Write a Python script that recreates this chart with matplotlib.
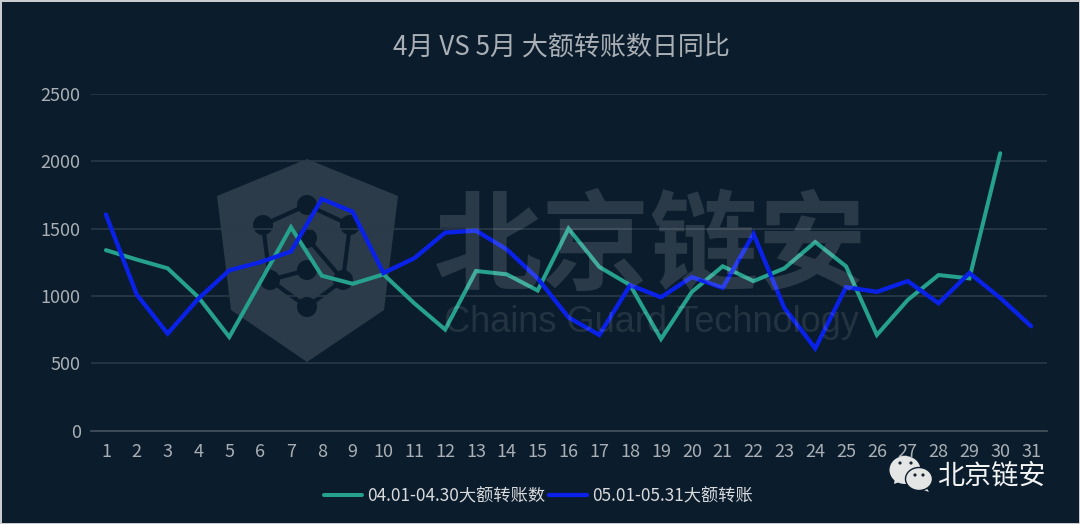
import matplotlib
matplotlib.use('Agg')
import matplotlib.pyplot as plt
from matplotlib.patches import Polygon, Circle, Ellipse

plt.rcParams['font.family'] = ['Noto Sans CJK SC', 'DejaVu Sans']

# data
days = [str(d) for d in range(1, 32)]
april = [1340, 1270, 1205, 990, 695, 1100, 1510, 1150, 1090, 1160, 945, 750, 1185, 1160, 1040,
         1500, 1215, 1080, 680, 1030, 1220, 1110, 1205, 1400, 1220, 710, 970, 1155, 1130, 2060]
may = [1605, 1010, 720, 980, 1190, 1250, 1330, 1720, 1625, 1170, 1280, 1470, 1485, 1345, 1130,
       840, 710, 1080, 990, 1140, 1060, 1460, 910, 610, 1065, 1030, 1110, 945, 1170, 985, 775]
y_ticks = [0, 500, 1000, 1500, 2000, 2500]

title = '4月 VS 5月 大额转账数日同比'
april_label = '04.01-04.30大额转账数'
may_label = '05.01-05.31大额转账'

BG = '#0b1c2c'
W, H = 1080, 524

fig = plt.figure(figsize=(W / 100, H / 100), dpi=100, facecolor=BG)
fig.patch.set_edgecolor('#c9cdd0')
fig.patch.set_linewidth(2)

# pixel layer under the chart for the shield logo
under = fig.add_axes([0, 0, 1, 1], zorder=0)
under.set_xlim(0, W)
under.set_ylim(H, 0)
under.axis('off')
under.add_patch(Polygon([(307, 159), (398, 196), (384, 310), (307, 362), (231, 310), (217, 196)],
                        closed=True, fc='#2c3b49', ec='none'))
nodes = [(307, 205), (263, 225), (350, 225), (270, 280), (343, 280), (307, 307), (307, 238), (307, 270)]
for a, b in [(0, 1), (0, 2), (1, 3), (2, 4), (3, 5), (4, 5), (6, 4), (7, 3)]:
    under.plot([nodes[a][0], nodes[b][0]], [nodes[a][1], nodes[b][1]], color=BG, lw=3)
for p in nodes:
    under.add_patch(Circle(p, 10, fc=BG, ec='none'))

# main chart
ax = fig.add_axes([90.5 / W, 1 - 430.5 / H, 956 / W, 336.5 / H], zorder=1)
ax.patch.set_alpha(0)
x_may = list(range(len(days)))
x_apr = x_may[:len(april)]
ax.plot(x_apr, april, color='#25a18e', lw=2.9, label=april_label,
        solid_joinstyle='miter', solid_capstyle='round', zorder=3)
ax.plot(x_may, may, color='#0a22e8', lw=3.1, label=may_label,
        solid_joinstyle='miter', solid_capstyle='round', zorder=4)

ax.set_xlim(-0.5, 30.5)
ax.set_ylim(0, 2500)
ax.set_xticks(x_may)
ax.set_xticklabels(days)
ax.set_yticks(y_ticks)
ax.tick_params(length=0, colors='#a9afb4', labelsize=13)
ax.tick_params(axis='x', pad=9)
ax.tick_params(axis='y', pad=7)
ax.grid(axis='y', color='#2b3a47', lw=1.2)
ax.set_axisbelow(True)
for s in ['top', 'right', 'left']:
    ax.spines[s].set_visible(False)
ax.spines['bottom'].set_color('#414e5a')
ax.spines['bottom'].set_linewidth(1.3)

fig.text(561.5 / W, 1 - 47.5 / H, title, color='#a9afb4', fontsize=18.75, ha='center', va='center')

leg = fig.legend(loc='center', bbox_to_anchor=(538.5 / W, 1 - 496 / H), ncol=2, frameon=False,
                 fontsize=12.4, handlelength=2.2, handletextpad=0.3, columnspacing=0.25,
                 labelcolor='#d8dadc')

# pixel layer over the chart: watermark and account badge
over = fig.add_axes([0, 0, 1, 1], zorder=2)
over.set_xlim(0, W)
over.set_ylim(H, 0)
over.axis('off')
over.patch.set_alpha(0)
over.text(651, 250, '北京链安', color='white', alpha=0.135, fontsize=78, fontweight='bold',
          ha='center', va='center')
over.text(651, 323, 'Chains Guard Technology', color='white', alpha=0.1, fontsize=26,
          family='Liberation Sans', ha='center', va='center')

over.add_patch(Polygon([(895, 478), (894, 484), (902, 481)], fc='#e4e6e6', ec='none'))
over.add_patch(Ellipse((905, 470), 31, 28, fc='#e4e6e6', ec='none'))
over.add_patch(Polygon([(926, 487), (929, 492), (921, 489)], fc='#e4e6e6', ec='none'))
over.add_patch(Ellipse((919, 479), 27, 23, fc='#e4e6e6', ec=BG, lw=1))
for p in [(900, 463), (911, 463), (915, 475), (923, 475)]:
    over.add_patch(Circle(p, 1.6, fc='#14232f', ec='none'))
over.text(991.5, 476, '北京链安', color='#f2f3f3', fontsize=19.5, ha='center', va='center')

fig.savefig('out.png', dpi=100, facecolor=fig.get_facecolor(), edgecolor=fig.get_edgecolor())
